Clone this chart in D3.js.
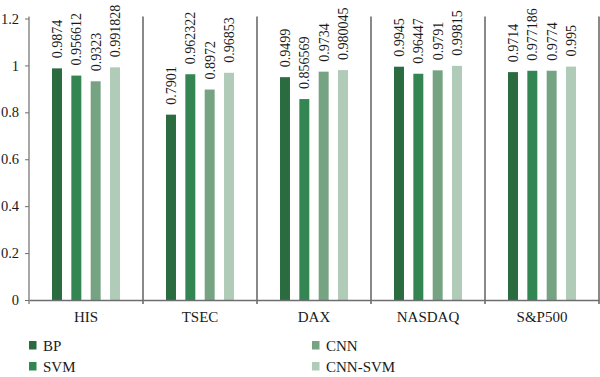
<!DOCTYPE html>
<html lang="en">
<head>
<meta charset="UTF-8">
<title>Accuracy by index</title>
<style>
    body { margin: 0; background: #fff; }
    svg text { font-family: "Liberation Serif", "DejaVu Serif", serif; fill: #1a1a1a; }
    .axis path, .axis line { stroke: #6e6e6e; }
</style>
</head>
<body>
<svg width="600" height="377"></svg>
<script src="https://cdn.jsdelivr.net/npm/d3@7"></script>
<script>
    const categories = ["HIS", "TSEC", "DAX", "NASDAQ", "S&P500"];
    const seriesNames = ["BP", "SVM", "CNN", "CNN-SVM"];
    const bp = [0.9874, 0.7901, 0.9499, 0.9945, 0.9714];
    const svmVals = [0.956612, 0.962322, 0.856569, 0.96447, 0.977186];
    const cnn = [0.9323, 0.8972, 0.9734, 0.9791, 0.9774];
    const cnnSvm = [0.991828, 0.96853, 0.980045, 0.99815, 0.995];
    const labelText = [
        ["0.9874", "0.7901", "0.9499", "0.9945", "0.9714"],
        ["0.956612", "0.962322", "0.856569", "0.96447", "0.977186"],
        ["0.9323", "0.8972", "0.9734", "0.9791", "0.9774"],
        ["0.991828", "0.96853", "0.980045", "0.99815", "0.995"]
    ];
    const yTicks = [0, 0.2, 0.4, 0.6, 0.8, 1, 1.2];
    const colors = ["#2a6b40", "#338552", "#76a382", "#b1cbb9"];

    const values = [bp, svmVals, cnn, cnnSvm];

    const svg = d3.select("svg");
    const mLeft = 29, mRight = 599, mTop = 18.5, mBottom = 300;

    const x0 = d3.scaleBand().domain(categories).range([mLeft, mRight]).padding(0);
    const x1 = d3.scaleBand().domain(seriesNames).range([0, x0.bandwidth()])
        .paddingInner(0.485).paddingOuter(1.19);
    const y = d3.scaleLinear().domain([0, 1.2]).range([mBottom, mTop]);

    // separators between categories
    svg.append("g").selectAll("line")
        .data(categories)
        .enter().append("line")
        .attr("x1", d => x0(d) + x0.bandwidth())
        .attr("x2", d => x0(d) + x0.bandwidth())
        .attr("y1", y(1.2) - 2)
        .attr("y2", mBottom + 4)
        .attr("stroke", "#3a3a3a")
        .attr("stroke-width", 1.2);

    // y axis
    const yAxis = svg.append("g")
        .attr("class", "axis")
        .attr("transform", `translate(${mLeft},0)`)
        .call(d3.axisLeft(y).tickValues(yTicks).tickSize(4).tickSizeOuter(0).tickFormat(d => String(d)));
    yAxis.select(".domain").attr("d", `M0,${y(1.2) - 2}V${mBottom + 4}`).attr("stroke", "#555").attr("stroke-width", 1.2);
    yAxis.selectAll("text").attr("font-size", 14.5).attr("x", -10);

    // bars
    const groups = svg.append("g").selectAll("g")
        .data(categories)
        .enter().append("g")
        .attr("transform", d => `translate(${x0(d)},0)`);

    groups.each(function(cat, ci) {
        const g = d3.select(this);
        seriesNames.forEach((s, si) => {
            const v = values[si][ci];
            g.append("rect")
                .attr("x", x1(s))
                .attr("y", y(v))
                .attr("width", x1.bandwidth())
                .attr("height", y(0) - y(v))
                .attr("fill", colors[si]);
            const cx = x1(s) + x1.bandwidth() / 2 + 5;
            const ty = y(v) - 10;
            g.append("text")
                .attr("transform", `translate(${cx},${ty}) rotate(-90)`)
                .attr("font-size", 14)
                .text(labelText[si][ci]);
        });
    });

    // x axis
    const xAxis = svg.append("g")
        .attr("class", "axis")
        .attr("transform", `translate(0,${mBottom})`)
        .call(d3.axisBottom(x0).tickSize(0).tickPadding(11));
    xAxis.select(".domain").attr("stroke", "#777").attr("stroke-width", 1.5);
    xAxis.selectAll("text").attr("font-size", 15);

    // legend
    const legendPos = [[29, 341], [29, 362], [312, 341], [312, 362]];
    const legend = svg.append("g").selectAll("g")
        .data(seriesNames)
        .enter().append("g")
        .attr("transform", (d, i) => `translate(${legendPos[i][0]},${legendPos[i][1]})`);
    legend.append("rect")
        .attr("width", 7.5).attr("height", 8.5)
        .attr("fill", (d, i) => colors[i]);
    legend.append("text")
        .attr("x", 14).attr("y", 9.5)
        .attr("font-size", 15)
        .text(d => d);
</script>
</body>
</html>
